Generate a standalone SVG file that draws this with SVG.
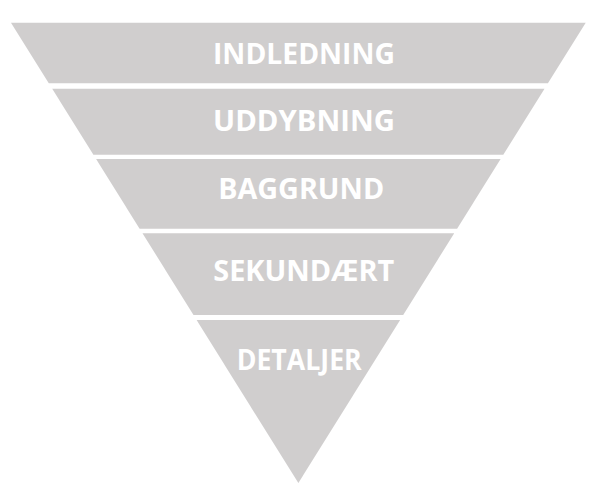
<svg xmlns="http://www.w3.org/2000/svg" width="592" height="493" viewBox="0 0 592 493">
<style>
.seg{fill:#d0cece}
.lbl{font-family:"Open Sans","DejaVu Sans",sans-serif;font-weight:bold;font-size:28px;fill:#ffffff;text-anchor:middle}
</style>
<rect width="592" height="493" fill="#ffffff"/>
<g id="indledning">
<polygon class="seg" points="11,22.7 585.7,22.7 547.9,83.3 48.8,83.3"/>
<text class="lbl" x="304" y="63.5" textLength="182" lengthAdjust="spacingAndGlyphs">INDLEDNING</text>
</g>
<g id="uddybning">
<polygon class="seg" points="52.2,88.7 544.5,88.7 503.3,154.7 93.4,154.7"/>
<text class="lbl" x="304" y="130.5" textLength="182" lengthAdjust="spacingAndGlyphs">UDDYBNING</text>
</g>
<g id="baggrund">
<polygon class="seg" points="96.1,159 500.6,159 457.1,228.7 139.6,228.7"/>
<text class="lbl" x="301.2" y="198.5" textLength="166" lengthAdjust="spacingAndGlyphs">BAGGRUND</text>
</g>
<g id="sekundaert">
<polygon class="seg" points="142.5,233.3 454.2,233.3 403.2,315 193.5,315"/>
<text class="lbl" x="303.8" y="281.3" textLength="181" lengthAdjust="spacingAndGlyphs">SEKUNDÆRT</text>
</g>
<g id="detaljer">
<polygon class="seg" points="196.6,320 400.1,320 298.35,483"/>
<text class="lbl" x="299.2" y="370.3" textLength="125" lengthAdjust="spacingAndGlyphs">DETALJER</text>
</g>
<g id="connectors"></g>
</svg>
